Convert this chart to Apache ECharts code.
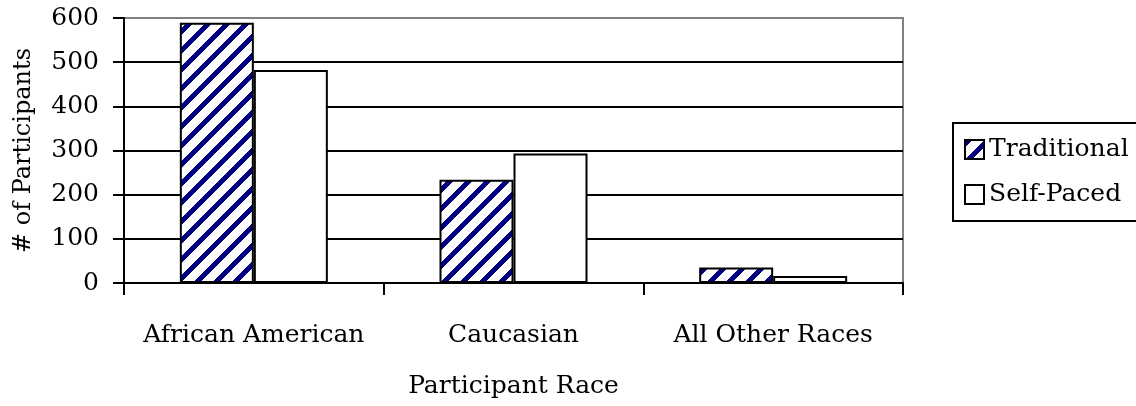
<!DOCTYPE html>
<html>
<head>
<meta charset="utf-8">
<script src="https://cdn.jsdelivr.net/npm/echarts@6/dist/echarts.min.js"></script>
<style>
  html, body { margin: 0; padding: 0; background: #fff; }
  #Chart { width: 1136px; height: 406px; }
</style>
</head>
<body>
<div id="Chart"></div>
<script>
var categories = ['African American', 'Caucasian', 'All Other Races'];
var traditional = [589, 234, 35];
var selfPaced = [482, 293, 16];
var yTicks = [0, 100, 200, 300, 400, 500, 600];

// diagonal navy hatch, pixel stepped like the old Excel fill
function makeHatch() {
    var n = 19, band = 7;
    var c = document.createElement('canvas');
    c.width = n; c.height = n;
    var ctx = c.getContext('2d');
    var img = ctx.createImageData(n, n);
    for (var y = 0; y < n; y++) {
        for (var x = 0; x < n; x++) {
            var k = (y * n + x) * 4;
            var on = ((x + y) % n) < band;
            img.data[k] = on ? 0 : 255;
            img.data[k + 1] = on ? 0 : 255;
            img.data[k + 2] = on ? 128 : 255;
            img.data[k + 3] = 255;
        }
    }
    ctx.putImageData(img, 0, 0);
    return c;
}

var font = 'DejaVu Serif';
var fs = 25;
var myChart = echarts.init(document.getElementById('Chart'));

var option = {
    animation: false,
    textStyle: { fontFamily: font, color: '#000' },
    grid: {
        left: 124, right: 233, top: 18, bottom: 123,
        show: true, borderColor: '#808080', borderWidth: 2
    },
    legend: {
        orient: 'vertical',
        left: 953, top: 123,
        padding: [14, 60, 14, 11],
        icon: 'rect',
        itemWidth: 19, itemHeight: 19,
        itemGap: 20,
        borderColor: '#000', borderWidth: 2,
        textStyle: { fontFamily: font, fontSize: fs, color: '#000' },
        data: ['Traditional', 'Self-Paced']
    },
    xAxis: {
        type: 'category',
        data: categories,
        name: 'Participant Race',
        nameLocation: 'middle',
        nameGap: 91,
        nameTextStyle: { fontFamily: font, fontSize: fs, color: '#000' },
        axisLine: { lineStyle: { color: '#000', width: 2 } },
        axisTick: { show: true, interval: 0, length: 12, lineStyle: { color: '#000', width: 2 } },
        axisLabel: { interval: 0, margin: 40, fontFamily: font, fontSize: fs, color: '#000' },
        splitLine: { show: false }
    },
    yAxis: {
        type: 'value',
        min: yTicks[0],
        max: yTicks[yTicks.length - 1],
        interval: 100,
        name: '# of Participants',
        nameLocation: 'middle',
        nameGap: 88,
        nameTextStyle: { fontFamily: font, fontSize: 24, color: '#000' },
        axisLine: { show: true, lineStyle: { color: '#000', width: 2 } },
        axisTick: { show: true, length: 11, lineStyle: { color: '#000', width: 2 } },
        axisLabel: { margin: 25, fontFamily: font, fontSize: fs, color: '#000' },
        splitLine: { show: true, showMaxLine: false, lineStyle: { color: '#000', width: 2 } }
    },
    series: [
        {
            name: 'Traditional',
            type: 'bar',
            data: traditional,
            barGap: '0%',
            barCategoryGap: '43%',
            itemStyle: {
                color: { image: makeHatch(), repeat: 'repeat' },
                borderColor: '#000',
                borderWidth: 2
            }
        },
        {
            name: 'Self-Paced',
            type: 'bar',
            data: selfPaced,
            itemStyle: { color: '#fff', borderColor: '#000', borderWidth: 2 }
        }
    ]
};

myChart.setOption(option);
</script>
</body>
</html>
